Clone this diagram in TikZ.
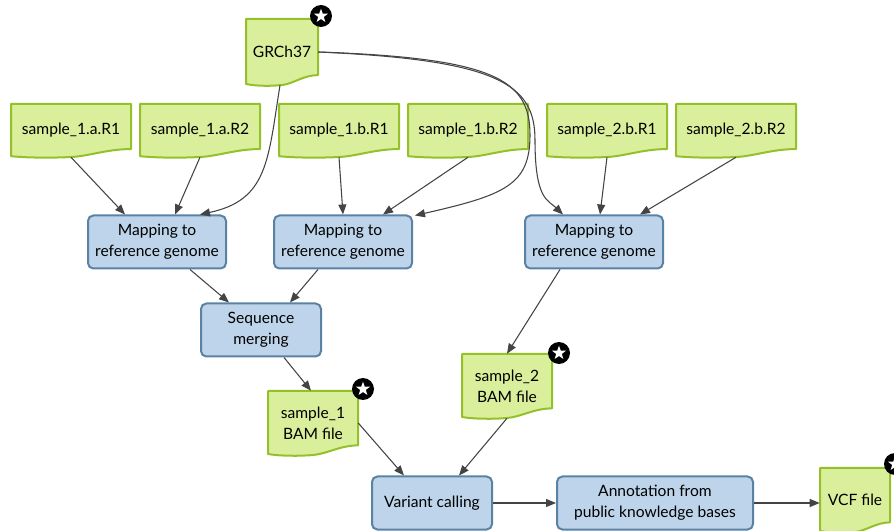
\documentclass[tikz,border=0pt]{standalone}
\usepackage{fontspec}
\setmainfont{Lato}
\usetikzlibrary{arrows.meta,shapes.geometric,calc}
\definecolor{docfill}{HTML}{DAEF9B}
\definecolor{docdraw}{HTML}{94C12A}
\definecolor{boxfill}{HTML}{BDD4EA}
\definecolor{boxdraw}{HTML}{5A82A4}
\definecolor{edgecol}{HTML}{444444}
\tikzset{
  docnode/.style={draw=none, inner sep=0pt, align=center, font=\fontsize{11.7}{15.75}\selectfont},
  docline/.style={draw=docdraw, fill=docfill, line width=1.5pt, line join=round},
  procbox/.style={draw=boxdraw, fill=boxfill, line width=1.5pt, rounded corners=4pt, align=center,
     inner sep=0pt, font=\fontsize{11.7}{15.75}\selectfont},
  starbg/.style={circle, fill=black, minimum size=16.5pt, inner sep=0pt},
  starfg/.style={star, star points=5, star point ratio=2.45, fill=white, minimum size=11pt, inner sep=0pt},
  edge/.style={draw=edgecol, line width=0.8pt, -{Triangle[length=7.5pt,width=6pt]}},
}
\newcommand{\docnode}[6]{%
  \pgfmathsetmacro{\dW}{#4-#2}%
  \pgfmathsetmacro{\dH}{#5-#3}%
  \pgfmathsetmacro{\dR}{0.15*\dH}%
  \pgfmathsetmacro{\dC}{(#2+#4)/2}%
  \draw[docline] (#2,#3) -- (#4,#3) -- ({#4},{#5-\dR})
     .. controls ({#4-0.2*\dW},{#5-\dR}) and ({\dC+0.15*\dW},{#5-0.1*\dR}) .. ({\dC},{#5})
     .. controls ({\dC-0.15*\dW},{#5+0.12*\dR}) and ({#2+0.15*\dW},{#5+0.12*\dR}) .. ({#2},{#5-0.1*\dR}) -- cycle;
  \node[docnode, minimum width=\dW*0.75pt, minimum height=\dH*0.75pt] (#1) at ({\dC},{(#3+#5)/2}) {#6};
}
\begin{document}
\begin{tikzpicture}[x=0.75pt, y=-0.75pt]
\useasboundingbox (0,0) rectangle (894,531);

% documents
\docnode{grch}{246}{19}{318}{85}{GRCh37}
\docnode{saR1}{11}{104}{131}{157}{sample\_1.a.R1}
\docnode{saR2}{140}{104}{260}{157}{sample\_1.a.R2}
\docnode{sbR1}{279}{104}{399}{157}{sample\_1.b.R1}
\docnode{sbR2}{408}{104}{528}{157}{sample\_1.b.R2}
\docnode{tbR1}{547}{104}{667}{157}{sample\_2.b.R1}
\docnode{tbR2}{676}{104}{796}{157}{sample\_2.b.R2}
\docnode{bam1}{268}{391}{358}{455}{sample\_1\\BAM file}
\docnode{bam2}{462}{354}{552}{418}{sample\_2\\BAM file}
\docnode{vcf}{820}{468}{890}{532}{VCF file}

% stars
\node[starbg] (st1) at (321,16) {};
\node[starfg] at (st1) {};
\node[starbg] (st2) at (363,389) {};
\node[starfg] at (st2) {};
\node[starbg] (st3) at (559,353) {};
\node[starfg] at (st3) {};
\node[starbg] (st4) at (895,464) {};
\node[starfg] at (st4) {};

% process boxes
\node[procbox, minimum width=138*0.75pt, minimum height=53*0.75pt] (map1) at (157,242) {Mapping to\\reference genome};
\node[procbox, minimum width=138*0.75pt, minimum height=53*0.75pt] (map2) at (343,242) {Mapping to\\reference genome};
\node[procbox, minimum width=138*0.75pt, minimum height=53*0.75pt] (map3) at (594,242) {Mapping to\\reference genome};
\node[procbox, minimum width=120*0.75pt, minimum height=53*0.75pt] (merge) at (261,330) {Sequence\\merging};
\node[procbox, minimum width=120*0.75pt, minimum height=53*0.75pt] (vc) at (432,503) {Variant calling};
\node[procbox, minimum width=196*0.75pt, minimum height=53*0.75pt] (ann) at (655,503) {Annotation from\\public knowledge bases};

% connectors
\draw[edge] (saR1.south) -- ($(map1.north)+(-32,0)$);
\draw[edge] (saR2.south) -- ($(map1.north)+(18,0)$);
\draw[edge] ($(grch.south)+(-2,0)$) .. controls (268,160) and (268,200) .. ($(map1.north)+(43,0)$);
\draw[edge] (grch.east) .. controls (495,58) and (530,80) .. (530,135)
   .. controls (530,185) and (505,195) .. ($(map2.north east)+(2,1)$);
\draw[edge] (grch.east) .. controls (500,60) and (535,85) .. (535,140)
   .. controls (535,200) and (548,200) .. ($(map3.north)+(-31,0)$);
\draw[edge] (sbR1.south) -- (map2.north);
\draw[edge] (sbR2.south) -- ($(map2.north)+(40,0)$);
\draw[edge] (tbR1.south) -- ($(map3.north)+(6,0)$);
\draw[edge] (tbR2.south) -- ($(map3.north)+(46,0)$);
\draw[edge] ($(map1.south)+(33,0)$) -- ($(merge.north)+(-32,0)$);
\draw[edge] ($(map2.south)+(-25,0)$) -- ($(merge.north)+(29,0)$);
\draw[edge] ($(merge.south)+(23,0)$) -- ($(bam1.north)+(-2,0)$);
\draw[edge] ($(map3.south)+(-34,0)$) -- (bam2.north);
\draw[edge] (bam1.east) -- ($(vc.north)+(-28,0)$);
\draw[edge] (bam2.south) -- ($(vc.north)+(27,0)$);
\draw[edge] (vc.east) -- (ann.west);
\draw[edge] (ann.east) -- (ann.east -| vcf.west);
\end{tikzpicture}
\end{document}
